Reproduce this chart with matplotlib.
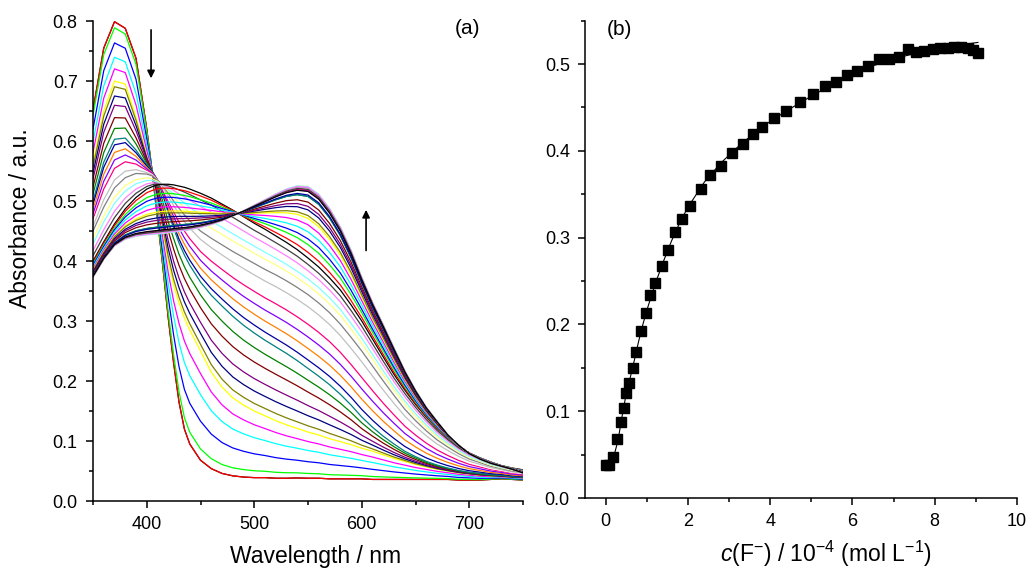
import numpy as np
import matplotlib
matplotlib.use('Agg')
import matplotlib.pyplot as plt
from matplotlib.ticker import MultipleLocator

plt.rcParams['font.family'] = ['Liberation Sans', 'DejaVu Sans']
plt.rcParams['mathtext.fontset'] = 'custom'
plt.rcParams['mathtext.rm'] = 'Liberation Sans'
plt.rcParams['mathtext.it'] = 'Liberation Sans:italic'

# wavelength grid (nm) on which the spectra were read
wavelength = [350, 360, 370, 380, 390, 400, 405, 410, 415, 420, 425, 430, 435,
              440, 450, 460, 470, 480, 490, 500, 510, 520, 530, 540, 550, 560,
              570, 580, 590, 600, 610, 620, 630, 640, 650, 660, 670, 680, 690,
              700, 710, 720, 730, 740, 750]

# spectra for a few of the titration steps
spec_00 = [.652, .755, .799, .788, .738, .620, .550, .470, .390, .305, .230, .165, .120,
           .095, .068, .054, .046, .042, .040, .039, .039, .038, .038, .0385, .038, .038,
           .037, .037, .037, .037, .036, .036, .036, .036, .036, .036, .036, .036, .035,
           .035, .035, .036, .037, .036, .035]
spec_06 = [.563, .650, .700, .695, .640, .575, .550, .500, .450, .400, .360, .330, .305,
           .285, .250, .215, .190, .172, .160, .150, .142, .134, .127, .121, .115, .110,
           .104, .099, .094, .088, .083, .077, .071, .066, .061, .057, .053, .050, .047,
           .045, .043, .042, .041, .040, .039]
spec_12 = [.500, .565, .603, .605, .585, .560, .550, .535, .510, .480, .455, .430, .410,
           .393, .365, .343, .325, .308, .293, .280, .268, .257, .246, .234, .221, .208,
           .194, .178, .160, .140, .123, .108, .095, .083, .074, .066, .060, .055, .051,
           .048, .046, .044, .043, .041, .040]
spec_19 = [.450, .490, .522, .539, .546, .545, .542, .535, .525, .513, .500, .488, .477,
           .467, .450, .438, .427, .416, .406, .396, .386, .377, .367, .356, .344, .330,
           .314, .295, .273, .250, .225, .200, .176, .153, .134, .117, .102, .090, .079,
           .070, .064, .058, .054, .050, .048]
spec_24 = [.400, .432, .462, .487, .506, .520, .524, .527, .528, .528, .527, .525, .523,
           .520, .513, .505, .495, .485, .474, .463, .453, .442, .431, .419, .405, .390,
           .372, .352, .327, .300, .270, .240, .211, .185, .161, .140, .121, .105, .091,
           .080, .072, .065, .059, .055, .052]
spec_48 = [.375, .405, .428, .440, .446, .449, .450, .451, .452, .453, .454, .455, .456,
           .457, .460, .464, .469, .476, .483, .491, .499, .507, .514, .518, .516, .503,
           .480, .450, .412, .368, .327, .290, .252, .215, .183, .155, .132, .110, .093,
           .079, .070, .063, .058, .053, .047]
anchor_steps = [0, 6, 12, 19, 24, 48]
anchor_spectra = [spec_00, spec_06, spec_12, spec_19, spec_24, spec_48]

# panel (b): absorbance at the band maximum vs fluoride concentration
conc = [0, 0.08, 0.19, 0.28, 0.37, 0.44, 0.49, 0.56, 0.66, 0.74, 0.86, 0.98, 1.09,
        1.21, 1.36, 1.52, 1.68, 1.85, 2.05, 2.31, 2.54, 2.81, 3.08, 3.33, 3.58, 3.81,
        4.10, 4.38, 4.72, 5.04, 5.33, 5.60, 5.86, 6.10, 6.38, 6.64, 6.88, 7.12, 7.34,
        7.55, 7.75, 7.95, 8.13, 8.32, 8.48, 8.64, 8.80, 8.92, 9.04]
absorb = [0.0385, 0.0385, 0.047, 0.068, 0.088, 0.104, 0.121, 0.132, 0.150, 0.168,
          0.192, 0.213, 0.234, 0.248, 0.267, 0.286, 0.307, 0.322, 0.336, 0.356, 0.372,
          0.383, 0.397, 0.408, 0.419, 0.427, 0.438, 0.446, 0.456, 0.466, 0.475, 0.479,
          0.487, 0.492, 0.498, 0.506, 0.506, 0.508, 0.517, 0.514, 0.515, 0.517, 0.518,
          0.519, 0.520, 0.520, 0.519, 0.516, 0.513]
fit_conc = [0, 0.1, 0.2, 0.3, 0.4, 0.5, 0.6, 0.7, 0.8, 0.9, 1.0, 1.2, 1.4, 1.6, 1.8,
            2.0, 2.4, 2.8, 3.2, 3.6, 4.0, 4.5, 5.0, 5.5, 6.0, 6.5, 7.0, 7.5, 8.0, 8.5, 9.05]
fit_abs = [0.036, 0.039, 0.048, 0.066, 0.094, 0.120, 0.139, 0.159, 0.180, 0.199, 0.216,
           0.246, 0.272, 0.296, 0.317, 0.335, 0.364, 0.386, 0.404, 0.420, 0.434, 0.449,
           0.463, 0.476, 0.488, 0.498, 0.506, 0.512, 0.517, 0.521, 0.525]

# Origin default line colour cycle
origin_colors = ['#000000', '#FF0000', '#00FF00', '#0000FF', '#00FFFF', '#FF00FF',
                 '#FFFF00', '#808000', '#000080', '#800080', '#800000', '#008000',
                 '#008080', '#0000A0', '#FF8000', '#8000FF', '#FF0080', '#FFFFFF',
                 '#C0C0C0', '#808080', '#FFFF80', '#80FFFF', '#FF80FF', '#404040']

wl = np.array(wavelength)
anchors = [np.array(s) for s in anchor_spectra]

# each titration step = mixture of the two neighbouring read spectra,
# weighted by its absorbance in panel (b)
spectra = []
for i in range(len(absorb)):
    for k in range(len(anchor_steps) - 1):
        a, b = anchor_steps[k], anchor_steps[k + 1]
        if a <= i <= b:
            break
    w = (absorb[i] - absorb[a]) / (absorb[b] - absorb[a])
    spectra.append((1 - w) * anchors[k] + w * anchors[k + 1])

fig = plt.figure(figsize=(10.3, 5.7), dpi=100)
ax1 = fig.add_axes([0.0903, 0.121, 0.4175, 0.842])
ax2 = fig.add_axes([0.568, 0.1263, 0.4194, 0.8374])

for i, s in enumerate(spectra):
    ax1.plot(wl, s, color=origin_colors[i % len(origin_colors)], lw=0.9)

ax1.set_xlim(350, 750)
ax1.set_ylim(0, 0.8)
ax1.xaxis.set_major_locator(MultipleLocator(100))
ax1.xaxis.set_minor_locator(MultipleLocator(50))
ax1.yaxis.set_major_locator(MultipleLocator(0.1))
ax1.yaxis.set_minor_locator(MultipleLocator(0.05))
ax1.yaxis.set_major_formatter(matplotlib.ticker.FormatStrFormatter('%.1f'))
ax1.set_xlabel('Wavelength / nm', fontsize=16.5)
ax1.set_ylabel('Absorbance / a.u.', fontsize=16.5)
ax1.xaxis.set_label_coords(0.517, -0.092)
ax1.yaxis.set_label_coords(-0.142, 0.59)
ax1.annotate('', xy=(404, 0.70), xytext=(404, 0.79),
             arrowprops=dict(arrowstyle='-|>', color='black', lw=1.2, mutation_scale=11))
ax1.annotate('', xy=(604, 0.49), xytext=(604, 0.413),
             arrowprops=dict(arrowstyle='-|>', color='black', lw=1.2, mutation_scale=11))
ax1.text(698, 0.788, '(a)', ha='center', va='center', fontsize=15)

ax2.plot(fit_conc, fit_abs, color='black', lw=0.8, zorder=2)
ax2.plot(conc, absorb, 's', color='black', ms=6.5, zorder=3)
ax2.set_xlim(-0.5, 10)
ax2.set_ylim(0, 0.55)
ax2.xaxis.set_major_locator(MultipleLocator(2))
ax2.xaxis.set_minor_locator(MultipleLocator(1))
ax2.yaxis.set_major_locator(MultipleLocator(0.1))
ax2.yaxis.set_minor_locator(MultipleLocator(0.05))
ax2.yaxis.set_major_formatter(matplotlib.ticker.FormatStrFormatter('%.1f'))
ax2.set_xlabel(r'$c$(F$^{-}$) / 10$^{-4}$ (mol L$^{-1}$)', fontsize=16.5)
ax2.xaxis.set_label_coords(0.557, -0.085)
ax2.text(0.34, 0.54, '(b)', ha='center', va='center', fontsize=15)

for ax in (ax1, ax2):
    ax.spines[['top', 'right']].set_visible(False)
    ax.spines[['left', 'bottom']].set_linewidth(1.1)
    ax.tick_params(which='major', direction='out', length=5, width=1.1, labelsize=13, pad=6)
    ax.tick_params(which='minor', direction='out', length=3, width=1.1)

fig.savefig('out.png', dpi=100)
